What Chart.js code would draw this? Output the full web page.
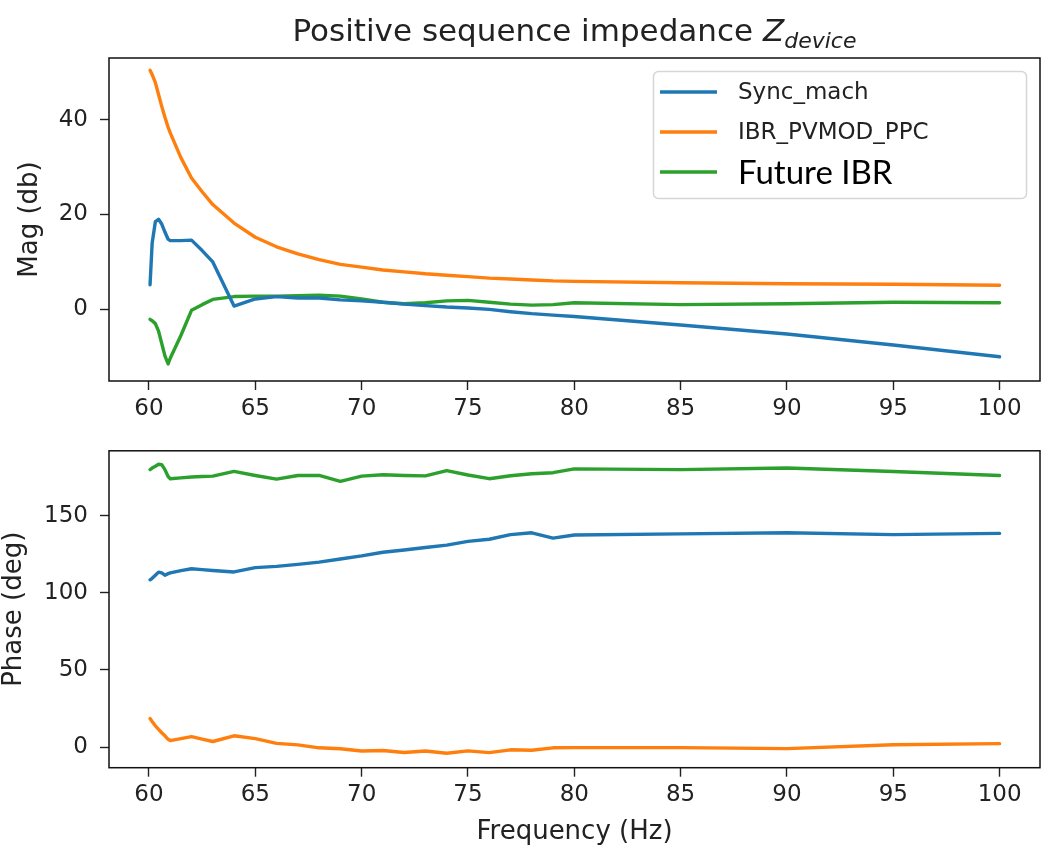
<!DOCTYPE html>
<html><head><meta charset="utf-8">
<script src="https://cdn.jsdelivr.net/npm/chart.js@4.4.0/dist/chart.umd.min.js"></script>
<style>
html,body{margin:0;padding:0;background:#fff;width:1041px;height:848px;overflow:hidden}
#w1{position:absolute;left:0;top:0;width:1041px;height:425px}
#w2{position:absolute;left:0;top:425px;width:1041px;height:423px}
</style></head><body>
<div id="w1"><canvas id="c1" width="1041" height="425"></canvas></div>
<div id="w2"><canvas id="c2" width="1041" height="423"></canvas></div>
<script>
// ---- data ----
const freq = [60.05, 60.15, 60.3, 60.45, 60.6, 60.75, 60.9, 61, 61.5, 62, 62.5, 63, 64, 65, 66, 67, 68, 69, 70, 71, 72, 73, 74, 75, 76, 77, 78, 79, 80, 85, 90, 95, 100];
const seriesNames = ['Sync_mach', 'IBR_PVMOD_PPC', 'Future IBR'];
const magSync   = [5.2, 14.0, 18.5, 19.0, 18.0, 16.3, 14.8, 14.5, 14.5, 14.6, 12.4, 10.0, 0.7, 2.2, 2.7, 2.4, 2.4, 2.0, 1.8, 1.5, 1.1, 0.8, 0.5, 0.3, 0.0, -0.5, -0.9, -1.2, -1.5, -3.3, -5.2, -7.5, -10.0];
const magPVMOD  = [50.4, 49.5, 47.8, 45.3, 42.8, 40.5, 38.4, 37.2, 32.0, 27.7, 24.8, 22.1, 18.2, 15.2, 13.2, 11.7, 10.5, 9.5, 8.9, 8.3, 7.9, 7.5, 7.2, 6.9, 6.6, 6.4, 6.2, 6.0, 5.9, 5.6, 5.4, 5.3, 5.1];
const magFuture = [-2.1, -2.4, -3.0, -4.6, -7.2, -9.8, -11.5, -10.3, -5.5, -0.2, 1.0, 2.1, 2.7, 2.8, 2.8, 2.9, 3.0, 2.8, 2.2, 1.5, 1.2, 1.4, 1.8, 1.9, 1.5, 1.1, 0.9, 1.0, 1.4, 1.0, 1.2, 1.5, 1.4];
const phSync    = [108.5, 109.5, 111.5, 113.5, 113.0, 111.5, 112.5, 113.0, 114.5, 115.7, 115.1, 114.5, 113.6, 116.4, 117.2, 118.5, 120.0, 122.0, 124.0, 126.4, 127.8, 129.5, 131.0, 133.4, 134.8, 137.8, 139.0, 135.5, 137.6, 138.3, 139.0, 137.8, 138.6];
const phPVMOD   = [18.5, 16.5, 13.8, 11.5, 9.3, 7.3, 5.0, 4.2, 5.5, 6.8, 5.2, 3.6, 7.3, 5.5, 2.4, 1.4, -0.5, -1.1, -2.6, -2.2, -3.5, -2.6, -4.0, -2.5, -3.6, -1.8, -2.1, -0.5, -0.4, -0.4, -1.0, 1.5, 2.2];
const phFuture  = [180.0, 181.0, 182.2, 183.5, 183.2, 180.0, 175.5, 174.1, 174.6, 175.2, 175.5, 175.8, 178.8, 176.2, 173.8, 176.2, 176.2, 172.4, 175.8, 176.7, 176.2, 175.9, 179.3, 176.5, 174.1, 176.0, 177.3, 178.0, 180.5, 180.0, 181.0, 178.8, 176.2];
const xTickStep = 5;
const magTickStep = 20;
const phaseTickStep = 50;

// ---- styling ----
const colors = ['#1f77b4', '#ff7f0e', '#2ca02c'];
const FONT = "'DejaVu Sans', sans-serif";
const TXT = '#222';
Chart.defaults.font.family = FONT;
Chart.defaults.color = TXT;

function pts(vals) { return freq.map((f, i) => ({x: f, y: vals[i]})); }
function makeDatasets(arrs) {
  return arrs.map((a, i) => ({
    label: seriesNames[i], data: pts(a), borderColor: colors[i], backgroundColor: colors[i],
    borderWidth: 3.4, pointRadius: 0, tension: 0, fill: false, borderJoinStyle: 'round', borderCapStyle: 'round'
  }));
}

const framePlugin = {
  id: 'frame',
  afterDraw(chart) {
    const {ctx, chartArea: a} = chart;
    ctx.save();
    ctx.strokeStyle = '#111'; ctx.lineWidth = 1.5;
    ctx.strokeRect(a.left, a.top, a.right - a.left, a.bottom - a.top);
    ctx.restore();
  }
};

const titlePlugin = {
  id: 'mathTitle',
  afterDraw(chart) {
    const ctx = chart.ctx, a = chart.chartArea;
    ctx.save();
    ctx.fillStyle = TXT;
    ctx.textBaseline = 'alphabetic';
    const main = 'Positive sequence impedance ';
    const fMain = "31px " + FONT, fZ = "oblique 31px " + FONT, fSub = "oblique 22px " + FONT;
    ctx.font = fMain; const w1 = ctx.measureText(main).width;
    ctx.font = fZ; const w2 = ctx.measureText('Z').width;
    ctx.font = fSub; const w3 = ctx.measureText('device').width;
    const total = w1 + w2 + w3;
    let x = (a.left + a.right) / 2 - total / 2;
    const base = 41;
    ctx.font = fMain; ctx.fillText(main, x, base); x += w1;
    ctx.font = fZ; ctx.fillText('Z', x, base); x += w2;
    ctx.font = fSub; ctx.fillText('device', x, base + 7);
    ctx.restore();
  }
};

const legendPlugin = {
  id: 'boxLegend',
  afterDraw(chart) {
    const ctx = chart.ctx;
    ctx.save();
    const bx = 653.5, by = 71.5, bw = 373, bh = 127, r = 5;
    ctx.beginPath();
    ctx.moveTo(bx + r, by); ctx.lineTo(bx + bw - r, by); ctx.arcTo(bx + bw, by, bx + bw, by + r, r);
    ctx.lineTo(bx + bw, by + bh - r); ctx.arcTo(bx + bw, by + bh, bx + bw - r, by + bh, r);
    ctx.lineTo(bx + r, by + bh); ctx.arcTo(bx, by + bh, bx, by + bh - r, r);
    ctx.lineTo(bx, by + r); ctx.arcTo(bx, by, bx + r, by, r); ctx.closePath();
    ctx.fillStyle = 'rgba(255,255,255,0.8)'; ctx.fill();
    ctx.strokeStyle = '#d6d6d6'; ctx.lineWidth = 1.5; ctx.stroke();
    const rows = [92, 132, 172];
    chart.data.datasets.forEach((ds, i) => {
      const y = rows[i];
      ctx.strokeStyle = ds.borderColor; ctx.lineWidth = 3.4;
      ctx.beginPath(); ctx.moveTo(660, y); ctx.lineTo(717, y); ctx.stroke();
      ctx.textBaseline = 'middle';
      if (i === 2) { ctx.font = "33px Lato, 'Open Sans', sans-serif"; ctx.fillStyle = '#000'; }
      else { ctx.font = "23px " + FONT; ctx.fillStyle = TXT; }
      ctx.fillText(ds.label, 738, y + 1);
    });
    ctx.restore();
  }
};

function xScale(height, withTitle) {
  return {
    type: 'linear', min: 58.12, max: 101.9,
    afterFit(s) { s.height = height; },
    border: {display: false},
    grid: {drawOnChartArea: false, drawTicks: true, tickLength: 9, tickWidth: 1.4, tickColor: TXT},
    ticks: {stepSize: xTickStep, includeBounds: false, padding: 5, font: {size: 23}, color: TXT, maxRotation: 0},
    title: withTitle ? {display: true, text: 'Frequency (Hz)', font: {size: 26, lineHeight: 1}, color: TXT, padding: {top: 0, bottom: 3}} : {display: false}
  };
}
function yScale(min, max, step, title, padTop) {
  return {
    type: 'linear', min: min, max: max,
    afterFit(s) { s.width = 109; },
    border: {display: false},
    grid: {drawOnChartArea: false, drawTicks: true, tickLength: 9, tickWidth: 1.4, tickColor: TXT},
    ticks: {stepSize: step, includeBounds: false, padding: 12, font: {size: 23}, color: TXT},
    title: {display: true, text: title, font: {size: 26, lineHeight: 1}, color: TXT, padding: {top: padTop, bottom: 0}}
  };
}

const common = {
  responsive: false, animation: false, devicePixelRatio: 1,
  plugins: {legend: {display: false}, tooltip: {enabled: false}, title: {display: false}}
};

new Chart(document.getElementById('c1'), {
  type: 'line',
  data: {datasets: makeDatasets([magSync, magPVMOD, magFuture])},
  options: Object.assign({}, common, {
    layout: {padding: {left: 0, right: 1, top: 58, bottom: 0}},
    scales: {x: xScale(44, false), y: yScale(-15.1, 53.0, magTickStep, 'Mag (db)', 17)}
  }),
  plugins: [framePlugin, titlePlugin, legendPlugin]
});

new Chart(document.getElementById('c2'), {
  type: 'line',
  data: {datasets: makeDatasets([phSync, phPVMOD, phFuture])},
  options: Object.assign({}, common, {
    layout: {padding: {left: 0, right: 1, top: 20, bottom: 0}},
    scales: {x: xScale(80.3, true), y: yScale(-13.4, 192.2, phaseTickStep, 'Phase (deg)', 1)}
  }),
  plugins: [framePlugin]
});
</script>
</body></html>
